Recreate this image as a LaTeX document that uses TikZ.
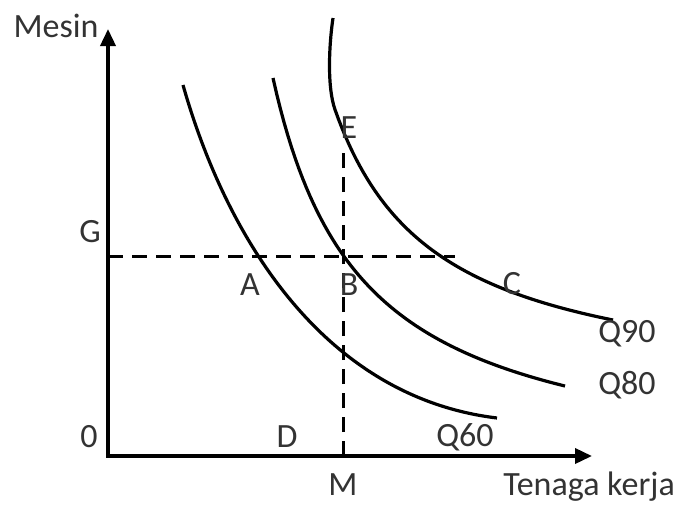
\documentclass[tikz,border=0pt]{standalone}
\usepackage{fontspec}
\setmainfont{Carlito}
\usetikzlibrary{arrows.meta}
\begin{document}
\begin{tikzpicture}[x=1pt,y=-1pt,
  lbl/.style={font=\fontsize{34}{34}\selectfont, text=black!80, inner sep=0pt},
  axis/.style={line width=3.6pt, -{Triangle[length=17pt,width=15pt]}},
  curve/.style={line width=3.2pt},
  guide/.style={line width=3pt, dash pattern=on 15pt off 9pt}]
\useasboundingbox (0,0) rectangle (685,504);
\coordinate (O) at (108,456);
\coordinate (ytip) at (108,29);
\coordinate (xtip) at (592,456);
\coordinate (Gl) at (108,256);
\coordinate (Gr) at (455,256);
\coordinate (Et) at (343,150);
\coordinate (Mb) at (343,456);
\coordinate (q60s) at (183,85);
\coordinate (q60e) at (497,418);
\coordinate (q90s) at (333,18);
\coordinate (q90m) at (335,109.6);
\draw[axis] (O) -- (ytip);
\draw[axis] ([xshift=-1.8pt]O) -- (xtip);
\draw[guide] (Gl) -- (Gr);
\draw[guide] (Mb) -- (Et);
% Q60
\draw[curve] (q60s) .. controls (226,236.5) and (323,397) .. (q60e);
% Q80
\draw[curve] plot[domain=273:565, samples=80] (\x, {479.8 - 357.21*(100/(\x-184.1))});
% Q90
\draw[curve] (q90s) .. controls (329,45) and (327,87) .. (q90m)
  -- plot[domain=335:613, samples=80] (\x, {396.8 - 291.47*(100/(\x-233.5))});
\node[lbl] (mesin) at (56,26) {Mesin};
\node[lbl] (G) at (90,232) {G};
\node[lbl] (A) at (250,285) {A};
\node[lbl] (B) at (349,285) {B};
\node[lbl] (C) at (512,284) {C};
\node[lbl] (E) at (349,128) {E};
\node[lbl] (q90) at (627,334) {Q90};
\node[lbl] (q80) at (627,385) {Q80};
\node[lbl] (q60) at (465,437) {Q60};
\node[lbl] (zero) at (89,437) {0};
\node[lbl] (D) at (287,437) {D};
\node[lbl, anchor=base] (M) at (343,495) {M};
\node[lbl, anchor=base] (tk) at (589,495) {Tenaga kerja};
\end{tikzpicture}
\end{document}
